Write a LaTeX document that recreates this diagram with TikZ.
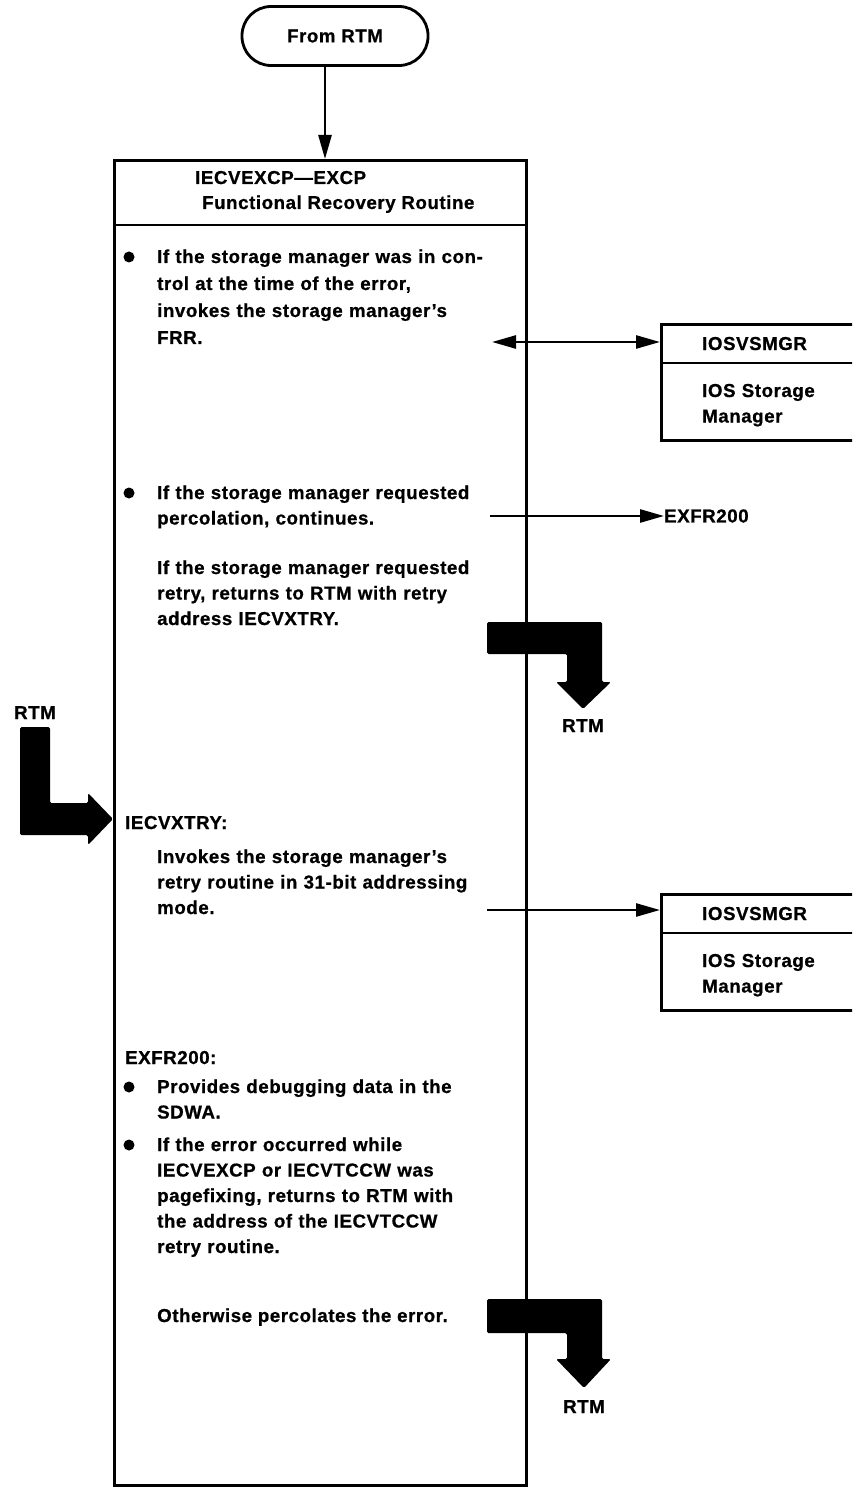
\documentclass[tikz,border=0pt]{standalone}
\usepackage{fontspec}
\setmainfont{Liberation Sans}[LetterSpace=3,FakeBold=0.8]
\usetikzlibrary{arrows.meta,calc}

\begin{document}
\begin{tikzpicture}[x=1pt,y=-1pt,
  every node/.style={font=\fontsize{18.7}{25.5}\selectfont\bfseries},
  txt/.style={inner sep=0pt, anchor=base west, align=left, text width=#1},
  txt/.default=340pt,
  lbl/.style={inner sep=0pt, anchor=base west},
  frame/.style={draw, line width=3pt, inner sep=0pt, anchor=north west},
  mgr/.style={draw, line width=3.4pt, inner sep=0pt, anchor=north west,
              minimum width=240pt, minimum height=116pt},
  conn/.style={line width=2.6pt},
  tip/.style={-{Triangle[length=24pt,width=13pt]}},
  dtip/.style={{Triangle[length=24pt,width=13pt]}-{Triangle[length=24pt,width=13pt]}},
  blk/.style={fill=black, rounded corners=1.5pt},
  dot/.style={fill=black}
]
\useasboundingbox (0,0) rectangle (852,1487);
\clip (0,0) rectangle (852,1487);

% entry terminal
\node[draw, line width=2.8pt, rounded corners=29pt, minimum width=186pt,
      minimum height=59pt, inner sep=0pt] (start) at (335,36) {From RTM};

% main routine frame
\node[frame, minimum width=412pt, minimum height=1325pt] (frr) at (113,159) {};
\draw[line width=2.6pt] (frr.west |- 0,225) -- (frr.east |- 0,225);
\draw[conn, tip] ([xshift=-10pt]start.south) -- ([xshift=-10pt]start.south |- frr.north);

% title
\node[lbl] (t1) at (195,184) {IECVEXCP—EXCP};
\node[lbl] (t2) at (202,209) {Functional Recovery Routine};

% first bullet
\fill[dot] (129,257) circle (5.5pt);
\node[txt, font=\fontsize{18.7}{27}\selectfont\bfseries] (b1) at (157,263) {If the storage manager was in con-\\trol at the time of the error,\\invokes the storage manager’s\\FRR.};

% storage manager (first call)
\node[mgr] (m1) at (660,323) {};
\draw[line width=2.6pt] ([yshift=-40pt]m1.north west) -- ([yshift=-40pt]m1.north east);
\node[lbl] (m1h) at ([xshift=42pt,yshift=-27pt]m1.north west) {IOSVSMGR};
\node[txt=150pt] (m1t) at ([xshift=42pt,yshift=-74pt]m1.north west) {IOS Storage\\Manager};
\coordinate (d1) at (492,342);
\draw[conn, dtip] (d1) -- (d1 -| m1.west);

% second bullet
\fill[dot] (129,493) circle (5.5pt);
\node[txt] (b2) at (157,499) {If the storage manager requested\\percolation, continues.};
\node[lbl, anchor=west] (ex) at (664,516) {EXFR200};
\coordinate (e1) at (490,516);
\draw[conn, tip] (e1) -- (ex.west);

\node[txt] (b3) at (157,574) {If the storage manager requested\\retry, returns to RTM with retry\\address IECVXTRY.};

% return to RTM (retry)
\fill[blk] (487,622) -- (602,622) -- (602,682) -- (611,682) -- (583,709)
  -- (556,682) -- (567,682) -- (567,654) -- (487,654) -- cycle;
\node[lbl, anchor=base] (r1) at (583,732) {RTM};

% entry from RTM at the retry point
\node[lbl, anchor=base] (r2) at (35,719) {RTM};
\fill[blk] (20,727) -- (50,727) -- (50,803) -- (88,803) -- (88,793) -- (113,819)
  -- (88,845) -- (88,835) -- (20,835) -- cycle;

\node[lbl] (xt) at (125,829) {IECVXTRY:};
\node[txt] (b4) at (157,863) {Invokes the storage manager’s\\retry routine in 31-bit addressing\\mode.};

% storage manager (retry routine)
\node[mgr] (m2) at (660,893) {};
\draw[line width=2.6pt] ([yshift=-40pt]m2.north west) -- ([yshift=-40pt]m2.north east);
\node[lbl] (m2h) at ([xshift=42pt,yshift=-27pt]m2.north west) {IOSVSMGR};
\node[txt=150pt] (m2t) at ([xshift=42pt,yshift=-74pt]m2.north west) {IOS Storage\\Manager};
\coordinate (e2) at (487,910);
\draw[conn, tip] (e2) -- (e2 -| m2.west);

% EXFR200 section
\node[lbl] (x2) at (125,1064) {EXFR200:};
\fill[dot] (129,1087) circle (5.5pt);
\node[txt] (b5) at (157,1093) {Provides debugging data in the\\SDWA.};
\fill[dot] (129,1145) circle (5.5pt);
\node[txt] (b6) at (157,1151) {If the error occurred while\\IECVEXCP or IECVTCCW was\\pagefixing, returns to RTM with\\the address of the IECVTCCW\\retry routine.};
\node[lbl] (b7) at (157,1322) {Otherwise percolates the error.};

% return to RTM (percolate)
\fill[blk] (487,1299) -- (602,1299) -- (602,1359) -- (611,1359) -- (584,1388)
  -- (556,1359) -- (567,1359) -- (567,1333) -- (487,1333) -- cycle;
\node[lbl, anchor=base] (r3) at (584,1413) {RTM};
\end{tikzpicture}
\end{document}
